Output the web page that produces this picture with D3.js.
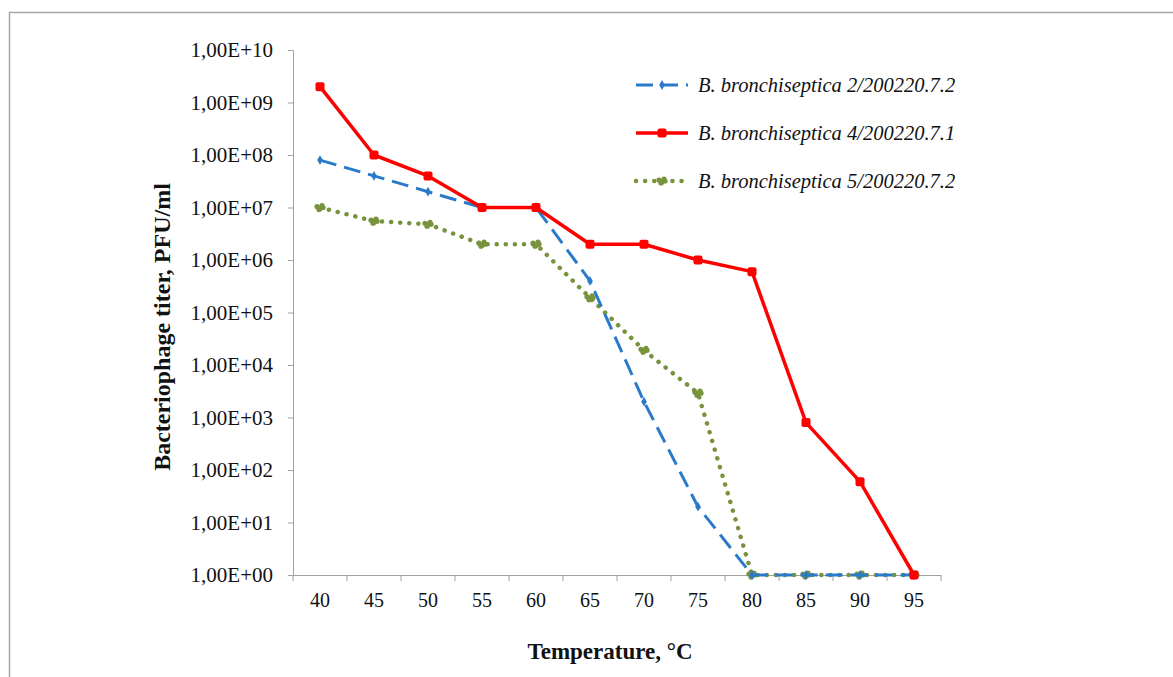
<!DOCTYPE html>
<html><head><meta charset="utf-8">
<script src="https://cdn.jsdelivr.net/npm/d3@7"></script>
<style>html,body{margin:0;padding:0;background:#fff;}</style>
</head><body>
<svg id="chart" width="1173" height="677"></svg>
<script>
const temperatures = [40,45,50,55,60,65,70,75,80,85,90,95];
const seriesNames = ["B. bronchiseptica 2/200220.7.2","B. bronchiseptica 4/200220.7.1","B. bronchiseptica 5/200220.7.2"];
const strain2 = [8e7,4e7,2e7,1e7,1e7,4e5,2e3,20,1,1,1,1];
const strain4 = [2e9,1e8,4e7,1e7,1e7,2e6,2e6,1e6,6e5,8e2,60,1];
const strain5 = [1e7,5.5e6,4.8e6,2e6,2e6,1.9e5,1.9e4,2.9e3,1,1,1,1];
const yTicks = [1,1e1,1e2,1e3,1e4,1e5,1e6,1e7,1e8,1e9,1e10];
const yTickLabels = ["1,00E+00","1,00E+01","1,00E+02","1,00E+03","1,00E+04","1,00E+05","1,00E+06","1,00E+07","1,00E+08","1,00E+09","1,00E+10"];
const xTitle = "Temperature, °C";
const yTitle = "Bacteriophage titer, PFU/ml";

const svg = d3.select("#chart");
const serif = "'Liberation Serif','Times New Roman',serif";
// outer frame
svg.append("rect").attr("x",9.5).attr("y",12.5).attr("width",1200).attr("height",700)
  .attr("fill","none").attr("stroke","#a6a6a6").attr("stroke-width",1.5);

const L=293, R=941, T=50, B=575;
const x = d3.scaleBand().domain(temperatures).range([L,R]).padding(0);
const y = d3.scaleLog().domain([1,1e10]).range([B,T]);
const cx = d => x(d)+x.bandwidth()/2;

// y axis
const gy = svg.append("g").attr("transform",`translate(${L},0)`)
  .call(d3.axisLeft(y).tickValues(yTicks).tickSize(5).tickPadding(15)
    .tickFormat((d,i)=>yTickLabels[i]));
gy.select(".domain").attr("stroke","#a0a0a0");
gy.selectAll(".tick line").attr("stroke","#a0a0a0");
gy.selectAll("text").attr("font-family",serif).attr("font-size",21).attr("fill","#111");

// x axis
const gx = svg.append("g").attr("transform",`translate(0,${B})`)
  .call(d3.axisBottom(x).tickSize(0).tickPadding(18));
gx.select(".domain").attr("stroke","#a0a0a0");
gx.selectAll("text").attr("font-family",serif).attr("font-size",20).attr("fill","#111");
// tick marks between categories
const edges = temperatures.map(t=>x(t)).concat([R]);
gx.selectAll(".edge").data(edges).enter().append("line")
  .attr("x1",d=>d).attr("x2",d=>d).attr("y1",0).attr("y2",6).attr("stroke","#a0a0a0");

// titles
svg.append("text").attr("x",610).attr("y",659).attr("text-anchor","middle")
  .attr("font-family",serif).attr("font-weight","bold").attr("font-size",23).attr("fill","#111").text(xTitle);
svg.append("text").attr("transform",`translate(170,327) rotate(-90)`).attr("text-anchor","middle")
  .attr("font-family",serif).attr("font-weight","bold").attr("font-size",24).attr("fill","#111").text(yTitle);

const line = d3.line().x((d,i)=>cx(temperatures[i])).y(d=>y(d));

const styles = [
  {data:strain2,color:"#2a7acb",width:3,dash:"17 8",cap:"butt",marker:"diamond"},
  {data:strain4,color:"#ff0000",width:3.5,dash:null,cap:"butt",marker:"square"},
  {data:strain5,color:"#77933c",width:4.5,dash:"0.1 9",cap:"round",marker:"blob"}
];
function drawMarker(g,type,px,py,color){
  if(type==="diamond"){
    g.append("path").attr("d",d3.symbol(d3.symbolDiamond,28)()).attr("transform",`translate(${px},${py})`).attr("fill",color);
  } else if(type==="square"){
    g.append("rect").attr("x",px-4.5).attr("y",py-4.5).attr("width",9).attr("height",9).attr("rx",2).attr("fill",color);
  } else {
    [[-3,-1],[0,1],[3,0],[-1,2],[2,-2]].forEach(o=>g.append("circle").attr("cx",px+o[0]).attr("cy",py+o[1]).attr("r",2.6).attr("fill",color));
  }
}
[2,0,1].forEach(k=>{
  const s=styles[k];
  const g=svg.append("g");
  g.append("path").attr("d",line(s.data)).attr("fill","none").attr("stroke",s.color)
    .attr("stroke-width",s.width).attr("stroke-dasharray",s.dash).attr("stroke-linecap",s.cap).attr("stroke-linejoin","round");
  s.data.forEach((v,i)=>drawMarker(g,s.marker,cx(temperatures[i]),y(v),s.color));
});

// legend
const legY=[85,133,181];
styles.forEach((s,k)=>{
  const g=svg.append("g");
  g.append("line").attr("x1",636).attr("x2",688).attr("y1",legY[k]).attr("y2",legY[k])
    .attr("stroke",s.color).attr("stroke-width",s.width).attr("stroke-dasharray",s.dash).attr("stroke-linecap",s.cap);
  drawMarker(g,s.marker,662,legY[k],s.color);
  g.append("text").attr("x",698).attr("y",legY[k]+7).attr("font-family",serif).attr("font-style","italic")
    .attr("font-size",20.5).attr("fill","#111").text(seriesNames[k]);
});
</script>
</body></html>
